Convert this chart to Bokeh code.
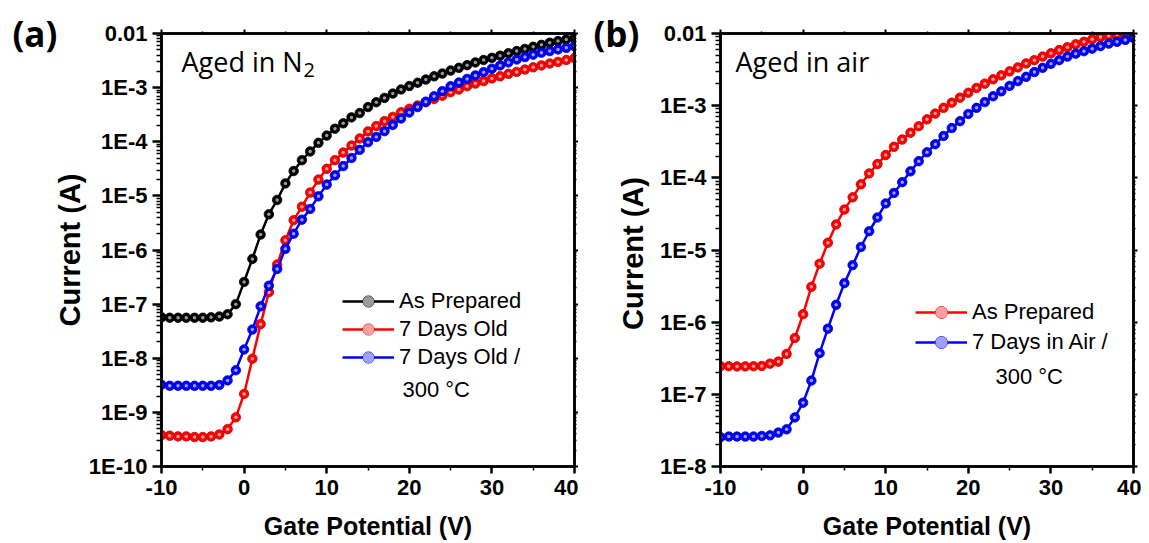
from bokeh.plotting import figure
from bokeh.layouts import row
from bokeh.models import (Range1d, FixedTicker, LogAxis, LinearAxis, CustomJSTickFormatter,
                          Legend, LegendItem, Label)
from bokeh.embed import file_html
from bokeh.resources import INLINE

# ---------------- data ----------------
gate_v = list(range(-10, 41))

# (a) Aged in N2
a_as_prepared = [5.7e-8, 5.6e-8, 5.6e-8, 5.6e-8, 5.6e-8, 5.6e-8, 5.7e-8, 5.9e-8,
                 6.5e-8, 1.0e-7, 2.57e-7, 6.84e-7, 1.93e-6, 4.57e-6, 8.41e-6, 1.70e-5,
                 2.88e-5, 4.57e-5, 6.61e-5, 9.55e-5, 1.30e-4, 1.74e-4, 2.19e-4, 2.82e-4,
                 3.39e-4, 4.37e-4, 5.37e-4, 6.46e-4, 7.76e-4, 9.23e-4, 1.07e-3, 1.23e-3,
                 1.41e-3, 1.62e-3, 1.82e-3, 2.07e-3, 2.32e-3, 2.60e-3, 2.92e-3, 3.24e-3,
                 3.55e-3, 3.89e-3, 4.32e-3, 4.73e-3, 5.19e-3, 5.69e-3, 6.17e-3, 6.76e-3,
                 7.24e-3, 7.76e-3, 8.22e-3]
a_7days_old = [3.8e-10, 3.7e-10, 3.6e-10, 3.6e-10, 3.5e-10, 3.5e-10, 3.6e-10, 3.9e-10,
               4.9e-10, 8.1e-10, 2.19e-9, 9.8e-9, 4.27e-8, 1.66e-7, 5.37e-7, 1.51e-6,
               3.55e-6, 6.31e-6, 1.15e-5, 2.0e-5, 3.16e-5, 4.57e-5, 6.31e-5, 8.51e-5,
               1.15e-4, 1.55e-4, 1.95e-4, 2.40e-4, 2.88e-4, 3.51e-4, 4.07e-4, 4.68e-4,
               5.37e-4, 6.17e-4, 7.08e-4, 8.22e-4, 9.23e-4, 1.06e-3, 1.19e-3, 1.32e-3,
               1.48e-3, 1.62e-3, 1.80e-3, 1.95e-3, 2.16e-3, 2.37e-3, 2.57e-3, 2.79e-3,
               2.99e-3, 3.24e-3, 3.51e-3]
a_7days_300c = [3.24e-9, 3.1e-9, 3.1e-9, 3.1e-9, 3.1e-9, 3.1e-9, 3.1e-9, 3.2e-9,
                3.9e-9, 6.0e-9, 1.45e-8, 3.39e-8, 9.1e-8, 2.19e-7, 4.47e-7, 1.05e-6,
                2.0e-6, 3.63e-6, 5.75e-6, 9.8e-6, 1.62e-5, 2.40e-5, 3.55e-5, 5.01e-5,
                7.08e-5, 9.8e-5, 1.23e-4, 1.57e-4, 2.04e-4, 2.69e-4, 3.47e-4, 4.37e-4,
                5.50e-4, 6.92e-4, 8.61e-4, 1.06e-3, 1.24e-3, 1.45e-3, 1.68e-3, 1.93e-3,
                2.24e-3, 2.57e-3, 2.92e-3, 3.31e-3, 3.67e-3, 4.07e-3, 4.42e-3, 4.73e-3,
                5.07e-3, 5.43e-3, 5.82e-3]

# (b) Aged in air
b_as_prepared = [2.45e-7, 2.45e-7, 2.44e-7, 2.44e-7, 2.45e-7, 2.47e-7, 2.66e-7, 2.84e-7,
                 3.63e-7, 6.03e-7, 1.29e-6, 3.09e-6, 6.46e-6, 1.26e-5, 2.26e-5, 3.63e-5,
                 5.37e-5, 8.13e-5, 1.15e-4, 1.55e-4, 2.07e-4, 2.69e-4, 3.39e-4, 4.22e-4,
                 5.19e-4, 6.46e-4, 7.76e-4, 9.33e-4, 1.10e-3, 1.29e-3, 1.51e-3, 1.76e-3,
                 2.02e-3, 2.32e-3, 2.63e-3, 2.99e-3, 3.39e-3, 3.85e-3, 4.27e-3, 4.79e-3,
                 5.31e-3, 5.89e-3, 6.46e-3, 7.08e-3, 7.67e-3, 8.32e-3, 8.91e-3, 9.3e-3,
                 9.6e-3, 9.8e-3, 1.0e-2]
b_7days_air_300c = [2.55e-8, 2.6e-8, 2.6e-8, 2.6e-8, 2.6e-8, 2.65e-8, 2.7e-8, 2.95e-8,
                    3.27e-8, 4.79e-8, 7.67e-8, 1.55e-7, 3.72e-7, 8.13e-7, 1.74e-6, 3.47e-6,
                    6.17e-6, 1.10e-5, 1.82e-5, 2.82e-5, 4.42e-5, 6.17e-5, 8.71e-5, 1.23e-4,
                    1.70e-4, 2.26e-4, 2.92e-4, 3.80e-4, 4.90e-4, 6.10e-4, 7.67e-4, 9.33e-4,
                    1.12e-3, 1.35e-3, 1.58e-3, 1.88e-3, 2.19e-3, 2.51e-3, 2.92e-3, 3.35e-3,
                    3.80e-3, 4.27e-3, 4.79e-3, 5.25e-3, 5.69e-3, 6.17e-3, 6.68e-3, 7.24e-3,
                    7.67e-3, 8.13e-3, 8.71e-3]

x_ticks = [-10, 0, 10, 20, 30, 40]
x_minor = [-5, 5, 15, 25, 35]

TICK_FONT = "Liberation Sans"
COLORS = {"black": ("#000000", "#000000", "#9a9a9a"),
          "red": ("#ff0000", "#c00000", "#ffa0a0"),
          "blue": ("#0000ff", "#0000b0", "#a0a0ff")}

YFMT = "const e = Math.round(Math.log10(tick)); return e === -2 ? '0.01' : '1E' + e;"


def make_panel(width, bl, br, dec_lo, series, legend_xy, glyph_h, tag, tag_x,
               note, note_x, sub, deg_xy, ytitle_standoff, ytitle_label_x):
    p = figure(width=width, height=542, y_axis_type="log",
               x_range=Range1d(-10, 40), y_range=Range1d(10.0 ** dec_lo, 1e-2),
               output_backend="svg", toolbar_location=None,
               min_border_left=bl, min_border_right=br, min_border_top=33, min_border_bottom=76)
    p.grid.visible = False
    p.outline_line_color = "black"
    p.outline_line_width = 2.5
    p.background_fill_color = "white"

    majors = [10.0 ** e for e in range(dec_lo, -1)]
    minors = [m * 10.0 ** e for e in range(dec_lo, -2) for m in range(2, 10)]
    yt = FixedTicker(ticks=majors, minor_ticks=minors)
    xt = FixedTicker(ticks=x_ticks, minor_ticks=x_minor)

    for ax in (p.xaxis[0], p.yaxis[0]):
        ax.axis_line_width = 2.5
        ax.major_tick_line_width = 2.5
        ax.minor_tick_line_width = 1.5
        ax.major_tick_in = 0
        ax.minor_tick_in = 0
        ax.major_label_text_font = TICK_FONT
        ax.major_label_text_font_style = "bold"
        ax.major_label_text_font_size = "22px"
        ax.major_label_text_color = "black"
        ax.axis_label_text_font = TICK_FONT
        ax.axis_label_text_font_style = "bold"
        ax.axis_label_text_color = "black"

    xa = p.xaxis[0]
    xa.ticker = xt
    xa.formatter = CustomJSTickFormatter(code="return tick.toFixed(0);")
    xa.major_tick_out = 7
    xa.minor_tick_out = 4
    xa.major_label_standoff = 6
    xa.axis_label = "Gate Potential (V)"
    xa.axis_label_text_font_size = "25px"
    xa.axis_label_standoff = 14

    ya = p.yaxis[0]
    ya.ticker = yt
    ya.formatter = CustomJSTickFormatter(code=YFMT)
    ya.major_tick_out = 9
    ya.minor_tick_out = 5
    ya.major_label_standoff = 5
    if ytitle_label_x is None:
        ya.axis_label = "Current (A)"
        ya.axis_label_text_font_size = "29px"
        ya.axis_label_standoff = ytitle_standoff

    blank = CustomJSTickFormatter(code="return '';")
    ra = LogAxis(ticker=yt, formatter=blank, major_tick_in=0, minor_tick_in=0,
                 major_tick_out=4, minor_tick_out=2, axis_line_width=2.5,
                 major_tick_line_width=2, minor_tick_line_width=1.5,
                 major_label_text_font_size="0px", major_label_standoff=0)
    ta = LinearAxis(ticker=xt, formatter=blank, major_tick_in=0, minor_tick_in=0,
                    major_tick_out=4, minor_tick_out=2, axis_line_width=2.5,
                    major_tick_line_width=2, minor_tick_line_width=1.5,
                    major_label_text_font_size="0px", major_label_standoff=0)
    p.add_layout(ra, "right")
    p.add_layout(ta, "above")

    items = []
    for label, ys, cname in series:
        c, edge, hi = COLORS[cname]
        r1 = p.line(gate_v, ys, line_color=c, line_width=2.5)
        r2 = p.scatter(gate_v, ys, size=9.5, fill_color=c, line_color=edge, line_width=0.8)
        r3 = p.scatter(gate_v, ys, size=3.5, fill_color=hi, line_color=None)
        items.append(LegendItem(label=label, renderers=[r1, r2, r3]))

    leg = Legend(items=items, location=legend_xy, glyph_width=52, glyph_height=glyph_h,
                 label_height=glyph_h, label_standoff=5, spacing=0, padding=0, margin=0,
                 border_line_color=None, background_fill_alpha=0,
                 label_text_font=TICK_FONT, label_text_font_size="22px",
                 label_text_color="black")
    p.add_layout(leg)

    p.add_layout(Label(x=deg_xy[0], y=deg_xy[1], x_units="screen", y_units="screen",
                       text="300 °C", text_font=TICK_FONT, text_font_size="22px",
                       text_baseline="middle", text_color="black"))
    # side-panel labels (drawn outside the frame without clipping)
    if ytitle_label_x is not None:
        p.add_layout(Label(x=ytitle_label_x, y=213, x_units="screen", y_units="screen",
                           text="Current (A)", angle=90, angle_units="deg",
                           text_font=TICK_FONT, text_font_style="bold", text_font_size="29px",
                           text_align="center", text_baseline="middle", text_color="black"),
                     "left")
    p.add_layout(Label(x=tag_x, y=433, x_units="screen", y_units="screen", text=tag,
                       text_font="Open Sans", text_font_style="bold", text_font_size="35px",
                       text_baseline="alphabetic", text_color="black"), "left")
    p.add_layout(Label(x=note_x, y=405, x_units="screen", y_units="screen", text=note,
                       text_font="Open Sans", text_font_size="27px",
                       text_baseline="alphabetic", text_color="black"))
    if sub is not None:
        p.add_layout(Label(x=sub, y=397, x_units="screen", y_units="screen", text="2",
                           text_font="Open Sans", text_font_size="20px",
                           text_baseline="alphabetic", text_color="black"))
    return p


pa = make_panel(578, 161, 4, -10,
                [("As Prepared", a_as_prepared, "black"),
                 ("7 Days Old", a_7days_old, "red"),
                 ("7 Days Old /", a_7days_300c, "blue")],
                (181, 95), 28, "(a)", 7, "Aged in N", 20, 142, (241, 77), 0, None)
pb = make_panel(563, 142, 8, -8,
                [("As Prepared", b_as_prepared, "red"),
                 ("7 Days in Air /", b_7days_air_300c, "blue")],
                (195, 109), 30, "(b)", 14, "Aged in air", 15, None, (275, 90), 0, 7)

layout = row(pa, pb, spacing=0)
open("out.html", "w").write(file_html(layout, INLINE))
